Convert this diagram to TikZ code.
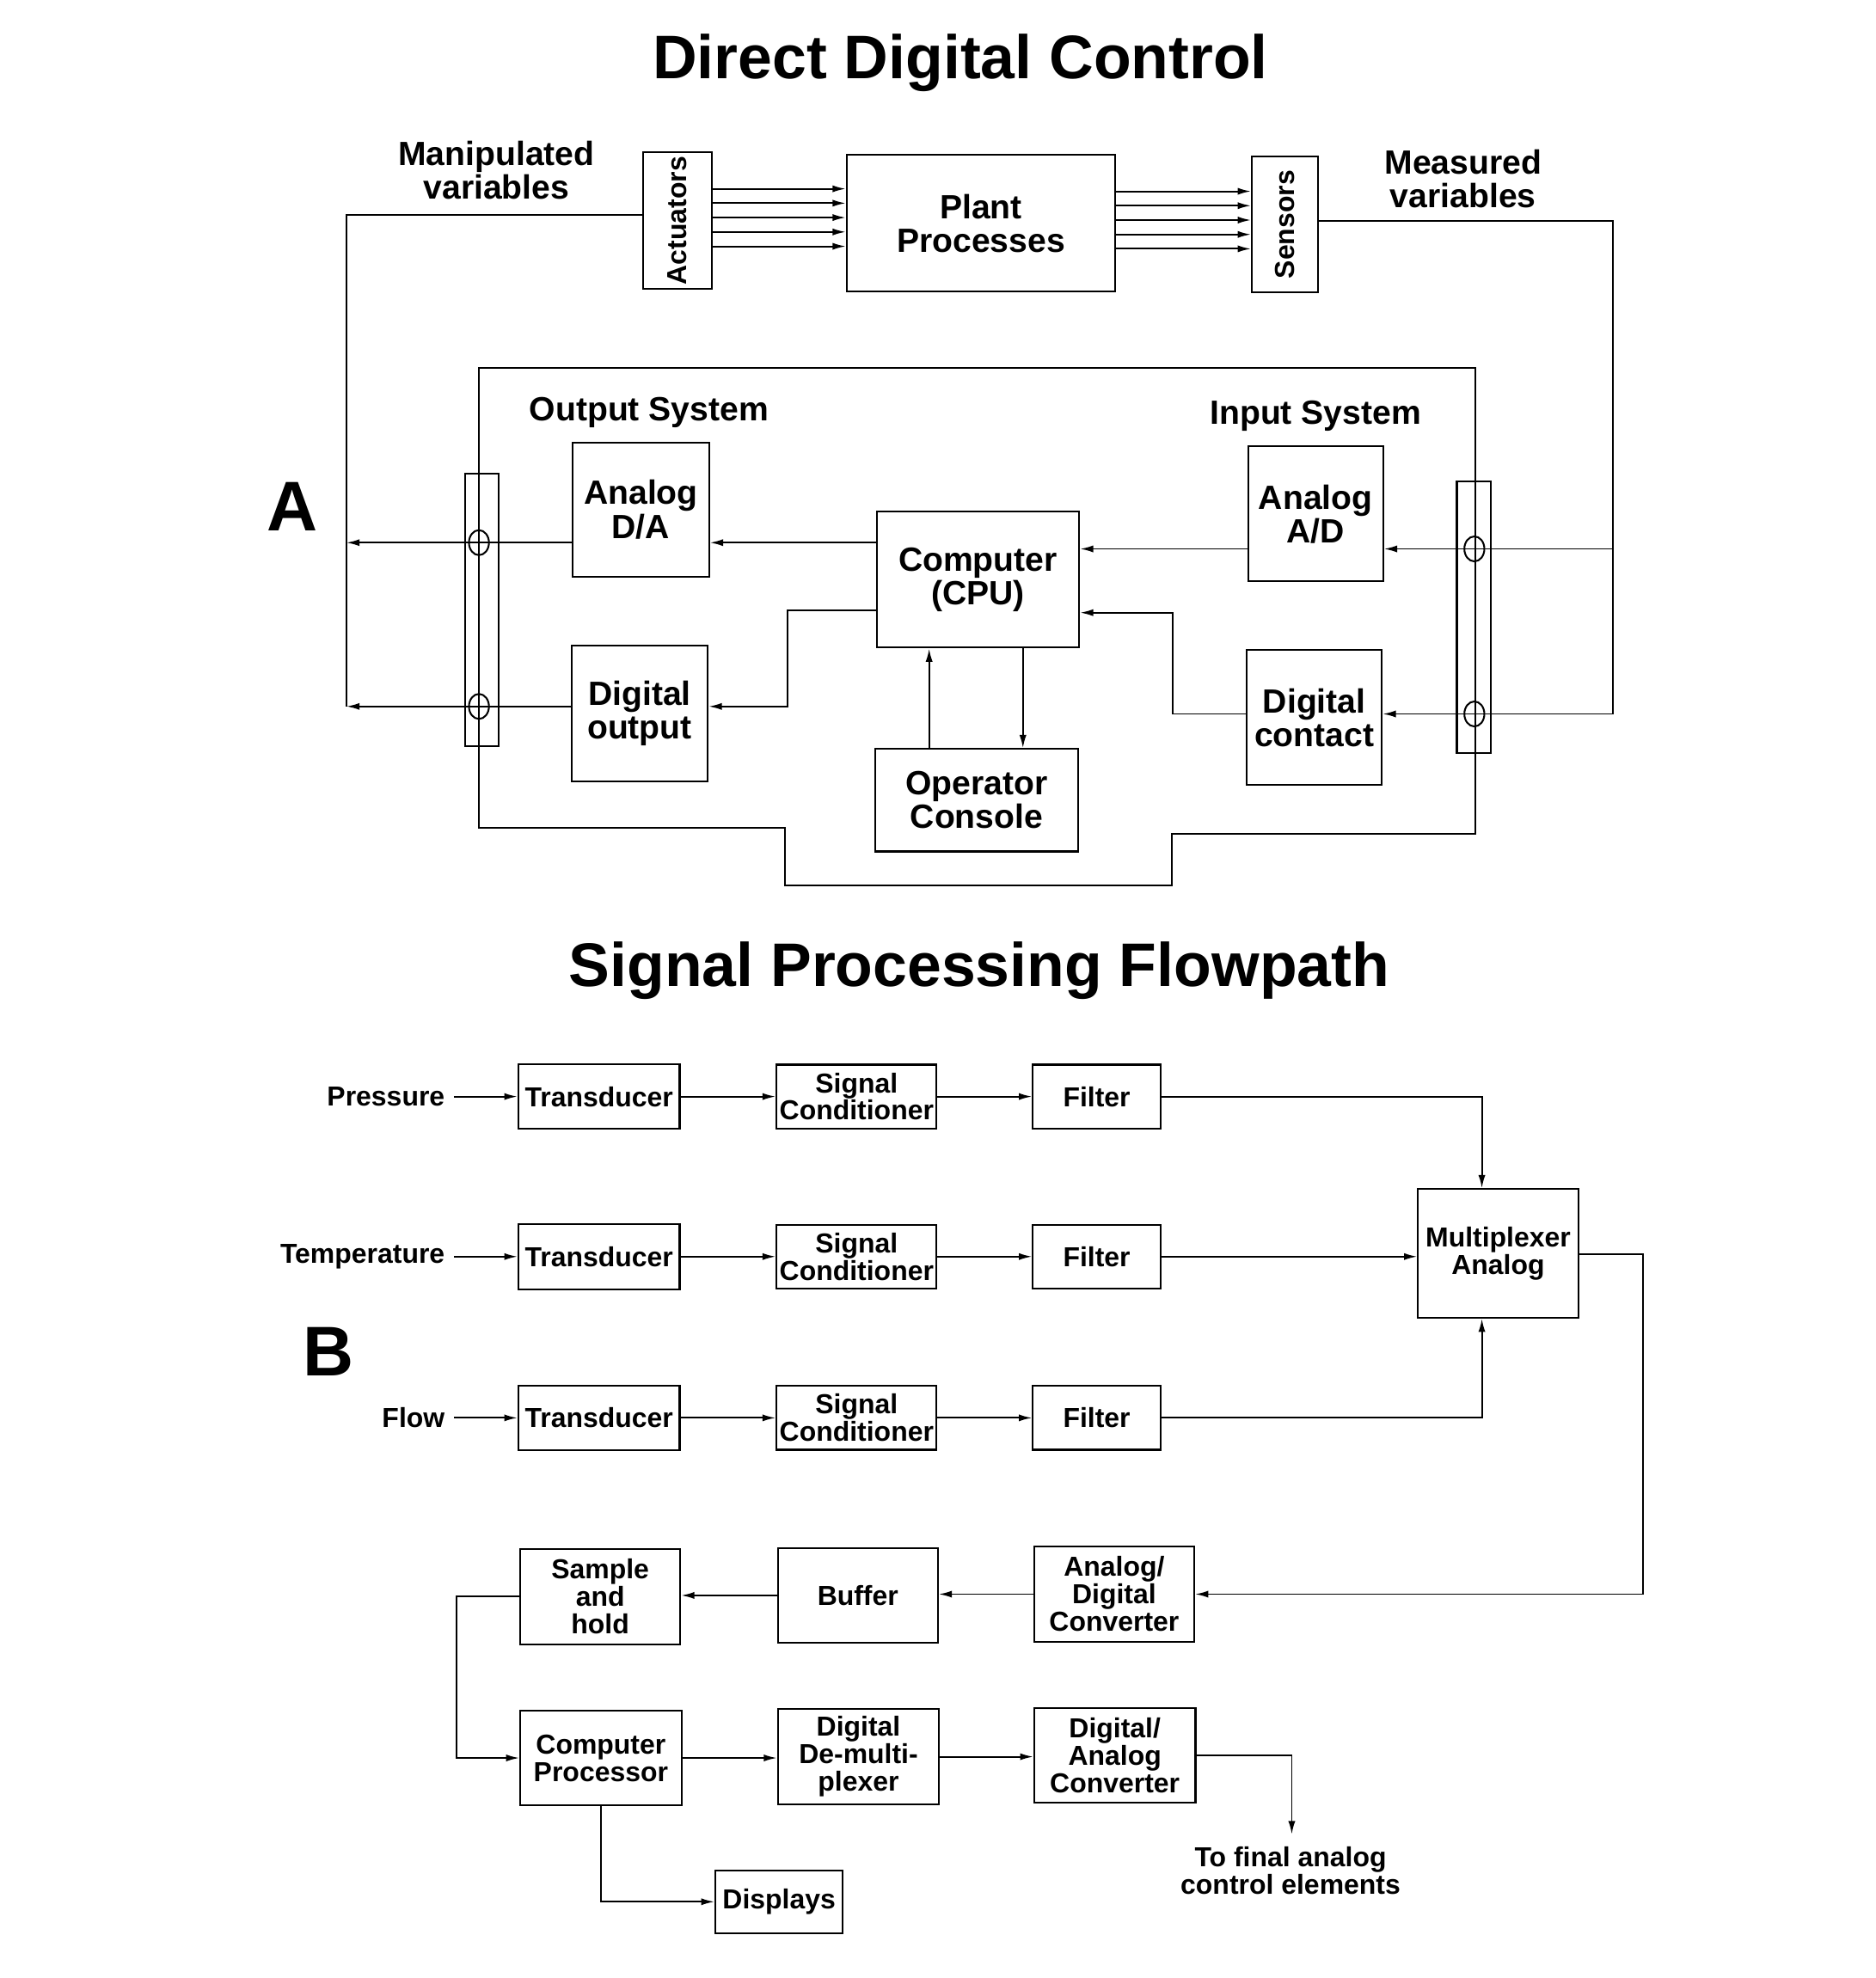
\documentclass[tikz,border=0pt]{standalone}
\usepackage{fontspec}
\setmainfont{Liberation Sans}
\usepackage{graphicx}
\usetikzlibrary{arrows.meta, shapes.geometric}
\tikzset{>=latex}
\tikzset{
  blk/.style 2 args={draw, line width=0.8pt, minimum width=#1*0.2mm, minimum height=#2*0.2mm, inner sep=0pt, align=center},
  fa/.style={font=\fontsize{15.3}{15.3}\selectfont\bfseries},
  fb/.style={font=\fontsize{12.5}{12.5}\selectfont\bfseries},
  ftitle/.style={font=\fontsize{28}{28}\selectfont\bfseries},
  fbig/.style={font=\fontsize{32}{32}\selectfont\bfseries},
  wire/.style={line width=0.75pt},
  arr/.style={line width=0.75pt, -{Latex[length=6pt, width=3.2pt]}},
  ring/.style={draw, ellipse, line width=0.8pt, minimum width=3.2mm, minimum height=4mm, inner sep=0pt}
}

\begin{document}
\begin{tikzpicture}[x=0.2mm, y=-0.2mm]
\useasboundingbox[fill=white] (0,0) rectangle (1500,1582);
\node[ftitle] (T1) at (768,50) {Direct Digital Control};
\node[blk={55}{109}, fb] (act) at (541.5,176.5) {\rotatebox{90}{Actuators}};
\node[blk={215}{109}, fa] (plant) at (784.5,178.5) {Plant\\Processes};
\node[blk={53}{109}, fb] (sens) at (1027.5,179.5) {\rotatebox{90}{Sensors}};
\node[fa, align=center] (mv) at (397,136) {Manipulated\\variables};
\node[fa, align=center] (ms) at (1170,143) {Measured\\variables};
\foreach \i in {0,...,4} {
  \coordinate (ya\i) at (0,{151+11.5*\i});
  \coordinate (yb\i) at (0,{153+11.5*\i});
  \draw[arr] (act.east |- ya\i) -- (plant.west |- ya\i);
  \draw[arr] (plant.east |- yb\i) -- (sens.west |- yb\i);
}
\draw[wire] (383,294) -- (1180,294) -- (1180,667) -- (937,667) -- (937,708) -- (628,708) -- (628,662) -- (383,662) -- cycle;
\node[blk={27}{218}] (lbus) at (385.5,488) {};
\node[blk={27}{217}] (rbus) at (1178.5,493.5) {};
\node[ring] (c1) at (383,434) {};
\node[ring] (c2) at (383,565) {};
\node[ring] (c3) at (1179,439) {};
\node[ring] (c4) at (1179,571) {};
\node[fa] (os) at (519,330) {Output System};
\node[fa] (is) at (1052,333) {Input System};
\node[fbig] (la) at (234,405) {A};
\node[blk={109}{107}, fa] (da) at (512.5,407.5) {Analog\\D/A};
\node[blk={109}{109}, fa] (dout) at (511.5,570.5) {Digital\\output};
\node[blk={162}{109}, fa] (cpu) at (782,463.5) {Computer\\(CPU)};
\node[blk={108}{108}, fa] (ad) at (1052,411) {Analog\\A/D};
\node[blk={108}{108}, fa] (dcon) at (1051,574) {Digital\\contact};
\node[blk={162}{82}, fa] (cons) at (781,640) {Operator\\Console};
\coordinate (L) at (277,172);
\coordinate (R) at (1290,177);
\coordinate (K1) at (630,488);
\coordinate (K2) at (938,490);
\coordinate (U1) at (743,0);
\coordinate (U2) at (818,0);
\draw[wire] (act.west |- L) -- (L) -- (L |- c2);
\draw[arr] (da.west |- c1) -- (L |- c1);
\draw[arr] (dout.west |- c2) -- (L |- c2);
\draw[wire] (sens.east |- R) -- (R) -- (R |- c4);
\draw[arr] (R |- c3) -- (ad.east |- c3);
\draw[arr] (R |- c4) -- (dcon.east |- c4);
\draw[arr] (cpu.west |- c1) -- (da.east |- c1);
\draw[arr] (ad.west |- c3) -- (cpu.east |- c3);
\draw[arr] (cpu.west |- K1) -- (K1) |- (dout.east |- c2);
\draw[arr] (dcon.west |- c4) -| (K2) -- (cpu.east |- K2);
\draw[arr] (cons.north -| U1) -- (cpu.south -| U1);
\draw[arr] (cpu.south -| U2) -- (cons.north -| U2);

\node[ftitle] (T2) at (783,776) {Signal Processing Flowpath};
\node[fbig] (lb) at (263,1081) {B};
\foreach \n/\y/\lab in {1/877/Pressure, 2/1005/Temperature, 3/1134/Flow} {
  \node[fb, inner sep=4pt, anchor=east] (in\n) at (363,\y) {\lab};
  \node[blk={129}{52}, fb] (tr\n) at (479,\y) {Transducer};
  \node[blk={128}{51}, fb] (sc\n) at (685,\y) {Signal\\Conditioner};
  \node[blk={102}{51}, fb] (fi\n) at (877,\y) {Filter};
  \draw[arr] (in\n) -- (tr\n);
  \draw[arr] (tr\n) -- (sc\n);
  \draw[arr] (sc\n) -- (fi\n);
}
\node[blk={128}{103}, fb] (mux) at (1198,1002.5) {Multiplexer\\Analog};
\node[blk={128}{76}, fb] (sh) at (480,1277) {Sample\\and\\hold};
\node[blk={128}{76}, fb] (buf) at (686,1276) {Buffer};
\node[blk={128}{76}, fb] (adc) at (891,1275) {Analog/\\Digital\\Converter};
\node[blk={129}{76}, fb] (cp) at (480.5,1406) {Computer\\Processor};
\node[blk={129}{76}, fb] (dmx) at (686.5,1405) {Digital\\De-multi-\\plexer};
\node[blk={129}{76}, fb] (dac) at (891.5,1404) {Digital/\\Analog\\Converter};
\node[blk={102}{50}, fb] (disp) at (623,1521) {Displays};
\node[fb, align=center] (fin) at (1032,1496) {To final analog\\control elements};
\coordinate (M1) at (1185,0);
\coordinate (M2) at (1314,1003);
\coordinate (F) at (1033,1467);
\draw[arr] (fi1.east) -| (M1 |- mux.north);
\draw[arr] (fi2.east) -- (mux.west |- fi2.east);
\draw[arr] (fi3.east) -| (M1 |- mux.south);
\draw[arr] (mux.east |- M2) -- (M2) |- (adc.east);
\draw[arr] (adc.west) -- (buf.east |- adc.west);
\draw[arr] (buf.west) -- (sh.east |- buf.west);
\draw[arr] (sh.west) -- ++(-50,0) |- (cp.west);
\draw[arr] (cp.east) -- (dmx.west |- cp.east);
\draw[arr] (dmx.east) -- (dac.west |- dmx.east);
\draw[arr] (dac.east) -| (F);
\draw[arr] (cp.south) |- (disp.west);
\end{tikzpicture}
\end{document}
